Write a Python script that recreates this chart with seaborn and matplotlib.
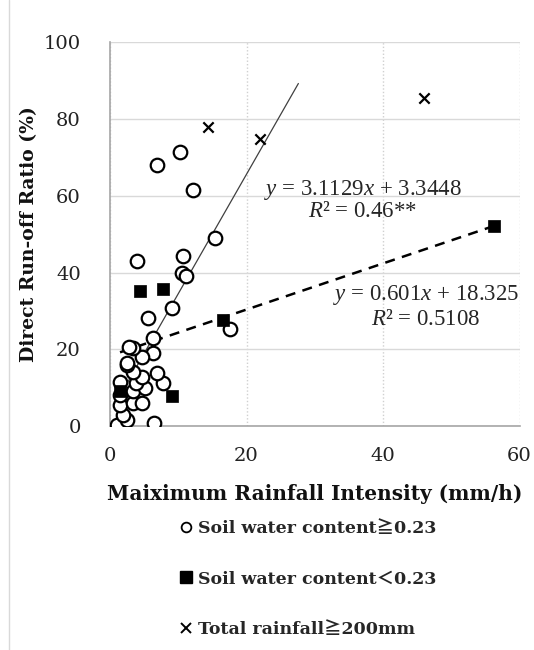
import numpy as np
import pandas as pd
import matplotlib
matplotlib.use("Agg")
import matplotlib.pyplot as plt
import seaborn as sns
from matplotlib.lines import Line2D

# ---- data ----
wet_x = [0.98, 6.45, 2.45, 1.95, 1.47, 3.42, 4.65, 1.47, 3.42, 5.13, 1.47, 3.81,
         4.65, 7.8, 6.9, 3.42, 2.45, 2.45, 6.35, 4.65, 3.42, 2.8, 6.35, 5.6, 9.05,
         3.9, 10.75, 10.5, 11.1, 15.4, 17.6, 12.2, 6.9, 10.3]
wet_y = [0.2, 0.8, 1.5, 2.9, 5.5, 5.9, 5.9, 8.0, 9.0, 9.8, 11.4, 11.3,
         12.9, 11.1, 13.9, 14.2, 15.9, 16.5, 19.0, 18.1, 20.3, 20.5, 22.9, 28.1, 30.7,
         42.9, 44.2, 39.9, 39.0, 49.0, 25.3, 61.6, 68.0, 71.4]
dry_x = [1.47, 9.05, 4.4, 7.8, 16.5, 56.2]
dry_y = [9.0, 7.8, 35.3, 35.7, 27.5, 52.0]
big_x = [14.4, 22.0, 46.0]
big_y = [77.9, 74.9, 85.6]

wet_fit = (3.1129, 3.3448)   # slope, intercept
wet_fit_range = [0.98, 27.6]
dry_fit = (0.601, 18.325)
dry_fit_range = [1.47, 56.2]

x_ticks = [0, 20, 40, 60]
y_ticks = [0, 20, 40, 60, 80, 100]

labels = ["Soil water content\u22670.23", "Soil water content\uff1c0.23",
          "Total rainfall\u2267200mm"]

# ---- style ----
sns.set_theme(style="white")
plt.rcParams['font.family'] = ['DejaVu Serif', 'Noto Sans CJK JP']
plt.rcParams['mathtext.fontset'] = 'custom'
plt.rcParams['mathtext.it'] = 'Liberation Serif:italic'
plt.rcParams['mathtext.rm'] = 'Liberation Serif'

fig = plt.figure(figsize=(5.34, 6.5), dpi=100)
ax = fig.add_axes([110/534, 1-426/650, (519.5-110)/534, (426-42.3)/650])

# trend lines
xs = np.array(wet_fit_range)
sns.lineplot(x=xs, y=wet_fit[0]*xs + wet_fit[1], ax=ax, color='#404040', lw=0.9, zorder=2)
xd = np.array(dry_fit_range)
sns.lineplot(x=xd, y=dry_fit[0]*xd + dry_fit[1], ax=ax, color='black', lw=1.8,
             linestyle=(0, (4, 3)), zorder=2)

sns.scatterplot(x=wet_x, y=wet_y, ax=ax, marker='o', s=95, facecolor='white',
                edgecolor='black', linewidth=1.6, zorder=4)
sns.scatterplot(x=dry_x, y=dry_y, ax=ax, marker='s', s=85, color='black',
                edgecolor='black', linewidth=0.5, zorder=5)
sns.scatterplot(x=big_x, y=big_y, ax=ax, marker='x', s=55, color='black',
                linewidth=1.6, zorder=5)

ax.set_xlim(0, 60)
ax.set_ylim(0, 100)
ax.set_xticks(x_ticks)
ax.set_yticks(y_ticks)
ax.tick_params(axis='both', labelsize=14, colors='#999999', labelcolor='#222222',
               length=8, width=1, direction='out')
ax.tick_params(axis='x', pad=7)
ax.tick_params(axis='y', pad=13)
for s in ['top', 'right']:
    ax.spines[s].set_visible(False)
for s in ['left', 'bottom']:
    ax.spines[s].set_color('#a6a6a6')
    ax.spines[s].set_linewidth(1.2)
ax.yaxis.grid(True, color='#d9d9d9', lw=1.0, linestyle='-')
ax.xaxis.grid(True, color='#d0d0d0', lw=1.0, linestyle=(0, (1, 1.5)))
ax.set_axisbelow(True)

ax.set_xlabel("Maiximum Rainfall Intensity (mm/h)", fontsize=14.5, fontweight='bold',
              labelpad=14, color='#111111')
ax.set_ylabel("Direct Run-off Ratio (%)", fontsize=13.5, fontweight='bold',
              labelpad=4, color='#111111')

eq_kw = dict(ha='center', va='center', fontsize=16.5, family='Liberation Serif')
ax.text(37, 61.6, r"$y$ = 3.1129$x$ + 3.3448", **eq_kw)
ax.text(37, 55.9, r"$R$² = 0.46**", **eq_kw)
ax.text(46.3, 34.2, r"$y$ = 0.601$x$ + 18.325", **eq_kw)
ax.text(46.3, 27.7, r"$R$² = 0.5108", **eq_kw)

handles = [
    Line2D([], [], marker='o', ls='none', mfc='white', mec='black', mew=1.3, ms=7),
    Line2D([], [], marker='s', ls='none', mfc='black', mec='black', ms=8),
    Line2D([], [], marker='x', ls='none', color='black', mew=1.4, ms=7),
]
fig.legend(handles, labels, loc='upper left', bbox_to_anchor=(162/534, 1-504/650),
           frameon=False, handletextpad=0.15, handlelength=1.0, labelspacing=1.95,
           prop={'size': 12.5, 'weight': 'bold'})

fig.add_artist(Line2D([9/534, 9/534], [0, 1], transform=fig.transFigure,
                      color='#d9d9d9', lw=1))

fig.savefig("out.png", dpi=100)
